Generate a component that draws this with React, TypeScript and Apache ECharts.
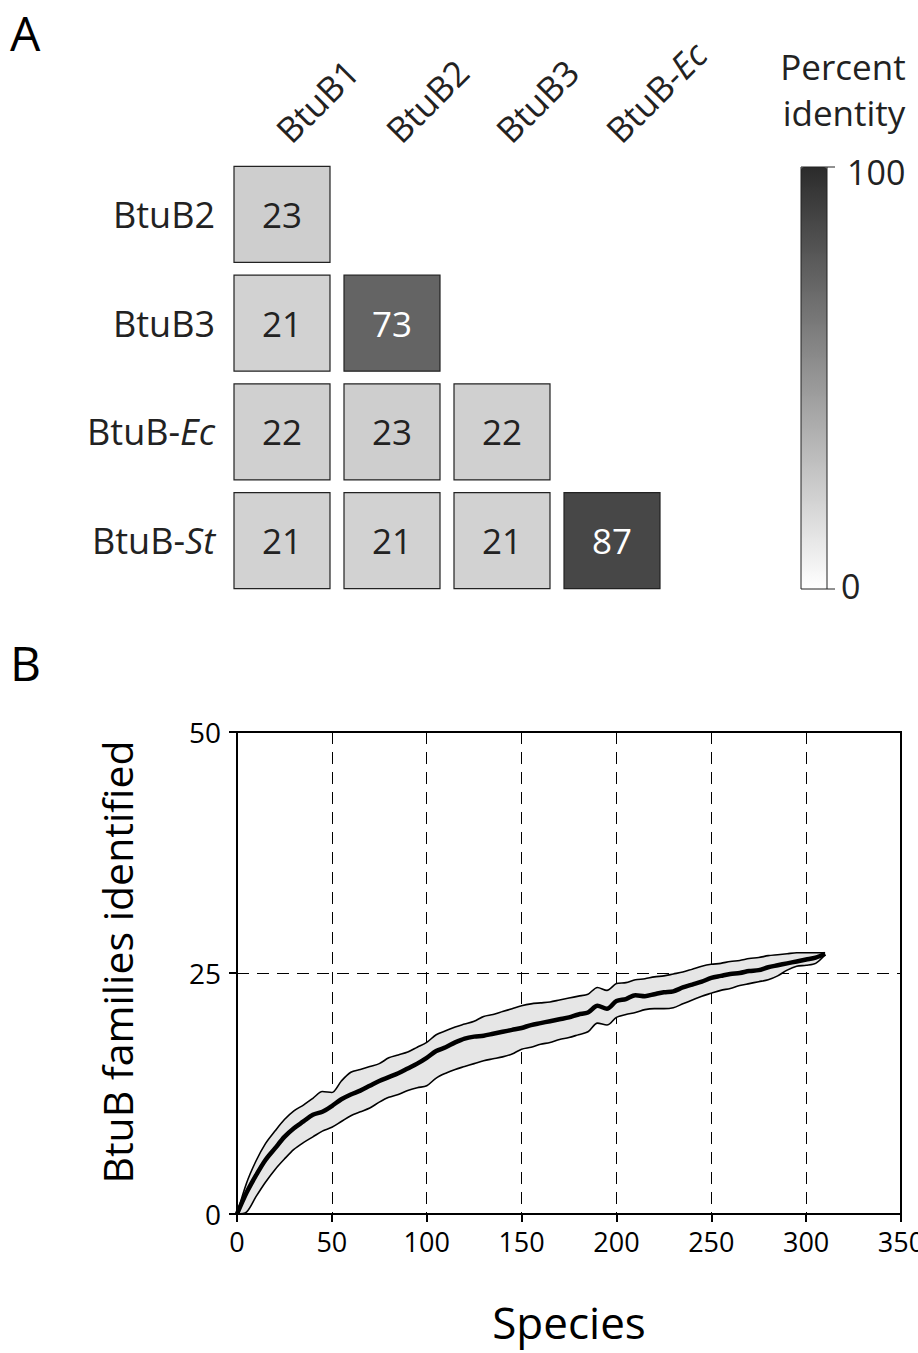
import React, { useEffect, useRef } from "react";
import * as echarts from "echarts";

// ---------- Panel A data ----------
const colCategories = ["BtuB1", "BtuB2", "BtuB3", "BtuB-Ec"];
const rowCategories = ["BtuB2", "BtuB3", "BtuB-Ec", "BtuB-St"];
// [column index, row index, percent identity]
const identityCells: [number, number, number][] = [
  [0, 0, 23],
  [0, 1, 21],
  [1, 1, 73],
  [0, 2, 22],
  [1, 2, 23],
  [2, 2, 22],
  [0, 3, 21],
  [1, 3, 21],
  [2, 3, 21],
  [3, 3, 87],
];
const colorbarMin = 0;
const colorbarMax = 100;
const colorbarLabels = ["100", "0"];

// ---------- Panel B data ----------
const species = [
  0, 5, 10, 15, 20, 25, 30, 35, 40, 45, 50, 55, 60, 65, 70, 75, 80, 85, 90, 95,
  100, 105, 110, 115, 120, 125, 130, 135, 140, 145, 150, 155, 160, 165, 170,
  175, 180, 185, 190, 195, 200, 205, 210, 215, 220, 225, 230, 235, 240, 245,
  250, 255, 260, 265, 270, 275, 280, 285, 290, 295, 300, 305, 310,
];
const meanFamilies = [
  0, 2.2, 4.0, 5.6, 6.8, 8.0, 8.9, 9.6, 10.3, 10.6, 11.2, 11.9, 12.4, 12.8,
  13.3, 13.8, 14.2, 14.6, 15.1, 15.6, 16.2, 16.9, 17.3, 17.8, 18.2, 18.4, 18.5,
  18.7, 18.9, 19.1, 19.3, 19.6, 19.8, 20.0, 20.2, 20.4, 20.7, 20.9, 21.6, 21.3,
  22.1, 22.3, 22.7, 22.6, 22.8, 23.0, 23.1, 23.5, 23.8, 24.1, 24.5, 24.7, 24.9,
  25.0, 25.2, 25.3, 25.6, 25.8, 26.0, 26.2, 26.4, 26.6, 27.0,
];
const upperFamilies = [
  0, 3.2, 5.5, 7.3, 8.6, 9.8, 10.7, 11.3, 12.0, 12.7, 12.6, 13.8, 14.7, 15.0,
  15.3, 15.6, 16.2, 16.5, 16.8, 17.3, 17.8, 18.6, 19.0, 19.4, 19.7, 20.0, 20.5,
  20.7, 21.0, 21.3, 21.6, 21.8, 21.9, 22.0, 22.2, 22.4, 22.6, 22.8, 23.5, 23.2,
  23.9, 24.0, 24.3, 24.4, 24.6, 24.7, 24.9, 25.1, 25.4, 25.7, 25.9, 26.0, 26.2,
  26.3, 26.5, 26.6, 26.8, 26.9, 27.0, 27.1, 27.1, 27.1, 27.1,
];
const lowerFamilies = [
  0, 0.2, 1.8, 3.3, 4.6, 5.7, 6.7, 7.4, 8.0, 8.6, 9.0, 9.6, 10.2, 10.6, 11.0,
  11.6, 12.1, 12.4, 12.8, 13.1, 13.3, 14.1, 14.6, 15.0, 15.3, 15.6, 15.9, 16.1,
  16.3, 16.6, 17.1, 17.3, 17.6, 17.8, 18.1, 18.3, 18.6, 18.9, 19.8, 19.6, 20.4,
  20.7, 20.9, 21.2, 21.3, 21.3, 21.4, 21.8, 22.2, 22.6, 22.9, 23.2, 23.4, 23.7,
  23.9, 24.1, 24.3, 24.7, 25.3, 25.7, 25.8, 26.0, 26.9,
];
const xMin = 0;
const xMax = 350;
const xStep = 50;
const yMin = 0;
const yMax = 50;
const yStep = 25;

const FONT = '"Open Sans", "Noto Sans", sans-serif';
const INK = "#222222";

export default function App() {
  const ref = useRef<HTMLDivElement>(null);

  useEffect(() => {
    document.body.style.margin = "0";
    if (!ref.current) return;
    const chart = echarts.init(ref.current, null, { renderer: "svg" });

    const cellData = identityCells.map(([c, r, v]) => ({
      value: [c, r, v],
      label: { color: v > 50 ? "#ffffff" : INK },
    }));

    const pair = (ys: number[]) => species.map((x, i) => [x, ys[i]]);

    const italicSuffix = (v: string) => {
      const m = v.match(/^(.*-)(\w+)$/);
      return m ? `${m[1]}{i|${m[2]}}` : v;
    };

    const bandRenderItem = (params: any, api: any) => {
      const pts: number[][] = [];
      for (let i = 0; i < species.length; i++) {
        pts.push(api.coord([species[i], upperFamilies[i]]));
      }
      for (let i = species.length - 1; i >= 0; i--) {
        pts.push(api.coord([species[i], lowerFamilies[i]]));
      }
      return {
        type: "polygon",
        shape: { points: pts },
        style: { fill: "#e6e6e6", stroke: "none" },
        silent: true,
      };
    };

    const option: any = {
      animation: false,
      backgroundColor: "#ffffff",
      textStyle: { fontFamily: FONT },
      grid: [
        {
          left: 227,
          top: 160,
          width: 440,
          height: 435,
          outerBoundsMode: "none",
          containLabel: false,
        },
        {
          left: 237,
          top: 732,
          width: 664,
          height: 482,
          outerBoundsMode: "none",
          containLabel: false,
          show: true,
          borderColor: "#000",
          borderWidth: 2,
          backgroundColor: "transparent",
        },
      ],
      xAxis: [
        {
          type: "category",
          gridIndex: 0,
          data: colCategories,
          position: "top",
          axisLine: { show: false },
          axisTick: { show: false },
          splitLine: { show: false },
          axisLabel: {
            rotate: -45,
            margin: 24,
            fontSize: 35,
            color: INK,
            fontFamily: FONT,
            formatter: italicSuffix,
            rich: {
              i: { fontStyle: "italic", fontSize: 35, color: INK, fontFamily: FONT },
            },
          },
        },
        {
          type: "value",
          gridIndex: 1,
          min: xMin,
          max: xMax,
          interval: xStep,
          axisLine: { show: true, onZero: false, lineStyle: { color: "#000", width: 2 } },
          axisTick: { show: true, length: 8, lineStyle: { color: "#000", width: 2 } },
          splitLine: {
            show: true,
            lineStyle: { color: "#000", width: 1, type: [12, 8] },
          },
          axisLabel: {
            fontSize: 27,
            color: "#000",
            margin: 14,
            fontFamily: FONT,
            hideOverlap: false,
          },
          name: "Species",
          nameLocation: "middle",
          nameGap: 86,
          nameTextStyle: { fontSize: 44, color: "#000", fontFamily: FONT },
        },
      ],
      yAxis: [
        {
          type: "category",
          gridIndex: 0,
          data: rowCategories,
          inverse: true,
          axisLine: { show: false },
          axisTick: { show: false },
          splitLine: { show: false },
          axisLabel: {
            margin: 12,
            fontSize: 36,
            color: INK,
            fontFamily: FONT,
            formatter: italicSuffix,
            rich: {
              i: { fontStyle: "italic", fontSize: 36, color: INK, fontFamily: FONT },
            },
          },
        },
        {
          type: "value",
          gridIndex: 1,
          min: yMin,
          max: yMax,
          interval: yStep,
          axisLine: { show: true, onZero: false, lineStyle: { color: "#000", width: 2 } },
          axisTick: { show: true, length: 8, lineStyle: { color: "#000", width: 2 } },
          splitLine: {
            show: true,
            lineStyle: { color: "#000", width: 1, type: [12, 8] },
          },
          axisLabel: { fontSize: 28, color: "#000", margin: 16, fontFamily: FONT },
          name: "BtuB families identified",
          nameLocation: "middle",
          nameGap: 100,
          nameRotate: 90,
          nameTextStyle: {
            fontSize: 41,
            color: "#000",
            fontFamily: FONT,
            padding: [0, 0, 0, 22],
          },
        },
      ],
      visualMap: {
        type: "continuous",
        seriesIndex: 0,
        dimension: 2,
        min: colorbarMin,
        max: colorbarMax,
        inRange: { color: ["#ffffff", "#2b2b2b"] },
        show: true,
        calculable: false,
        hoverLink: false,
        orient: "vertical",
        left: 801,
        top: 167,
        padding: 0,
        itemWidth: 26,
        itemHeight: 422,
        text: null,
        textGap: 0,
      },
      series: [
        {
          type: "scatter",
          xAxisIndex: 0,
          yAxisIndex: 0,
          symbol: "rect",
          symbolSize: 96,
          data: cellData,
          itemStyle: { borderColor: INK, borderWidth: 1.2, opacity: 1 },
          label: {
            show: true,
            position: "inside",
            fontSize: 35,
            fontFamily: FONT,
            formatter: (p: any) => String(p.value[2]),
          },
          emphasis: { disabled: true },
        },
        {
          type: "custom",
          xAxisIndex: 1,
          yAxisIndex: 1,
          coordinateSystem: "cartesian2d",
          data: [[0, 0]],
          renderItem: bandRenderItem,
          silent: true,
        },
        {
          type: "line",
          xAxisIndex: 1,
          yAxisIndex: 1,
          data: pair(upperFamilies),
          smooth: 0.3,
          symbol: "none",
          lineStyle: { color: "#000", width: 1.6 },
          silent: true,
        },
        {
          type: "line",
          xAxisIndex: 1,
          yAxisIndex: 1,
          data: pair(lowerFamilies),
          smooth: 0.3,
          symbol: "none",
          lineStyle: { color: "#000", width: 1.6 },
          silent: true,
        },
        {
          type: "line",
          xAxisIndex: 1,
          yAxisIndex: 1,
          data: pair(meanFamilies),
          smooth: 0.3,
          symbol: "none",
          lineStyle: { color: "#000", width: 4.5 },
          silent: true,
        },
      ],
      graphic: [
        {
          type: "text",
          x: 10,
          y: 8,
          style: {
            text: "A",
            fontSize: 48,
            fill: "#000",
            fontFamily: FONT,
            verticalAlign: "top",
          },
        },
        {
          type: "text",
          x: 10,
          y: 638,
          style: {
            text: "B",
            fontSize: 48,
            fill: "#000",
            fontFamily: FONT,
            verticalAlign: "top",
          },
        },
        {
          type: "text",
          x: 843,
          y: 66,
          style: {
            text: "Percent",
            fontSize: 35,
            fill: INK,
            fontFamily: FONT,
            align: "center",
            verticalAlign: "middle",
          },
        },
        {
          type: "text",
          x: 844,
          y: 112,
          style: {
            text: "identity",
            fontSize: 35,
            fill: INK,
            fontFamily: FONT,
            align: "center",
            verticalAlign: "middle",
          },
        },
        {
          type: "rect",
          shape: { x: 801, y: 167, width: 26, height: 422 },
          style: { fill: "none", stroke: INK, lineWidth: 1 },
          z: 100,
        },
        {
          type: "line",
          shape: { x1: 827, y1: 167, x2: 835, y2: 167 },
          style: { stroke: INK, lineWidth: 1 },
        },
        {
          type: "line",
          shape: { x1: 827, y1: 589, x2: 835, y2: 589 },
          style: { stroke: INK, lineWidth: 1 },
        },
        {
          type: "text",
          x: 847,
          y: 172,
          style: {
            text: colorbarLabels[0],
            fontSize: 34,
            fill: INK,
            fontFamily: FONT,
            align: "left",
            verticalAlign: "middle",
          },
        },
        {
          type: "text",
          x: 841,
          y: 586,
          style: {
            text: colorbarLabels[1],
            fontSize: 34,
            fill: INK,
            fontFamily: FONT,
            align: "left",
            verticalAlign: "middle",
          },
        },
      ],
    };

    chart.setOption(option);
    return () => chart.dispose();
  }, []);

  return <div ref={ref} style={{ width: 918, height: 1353 }} />;
}
